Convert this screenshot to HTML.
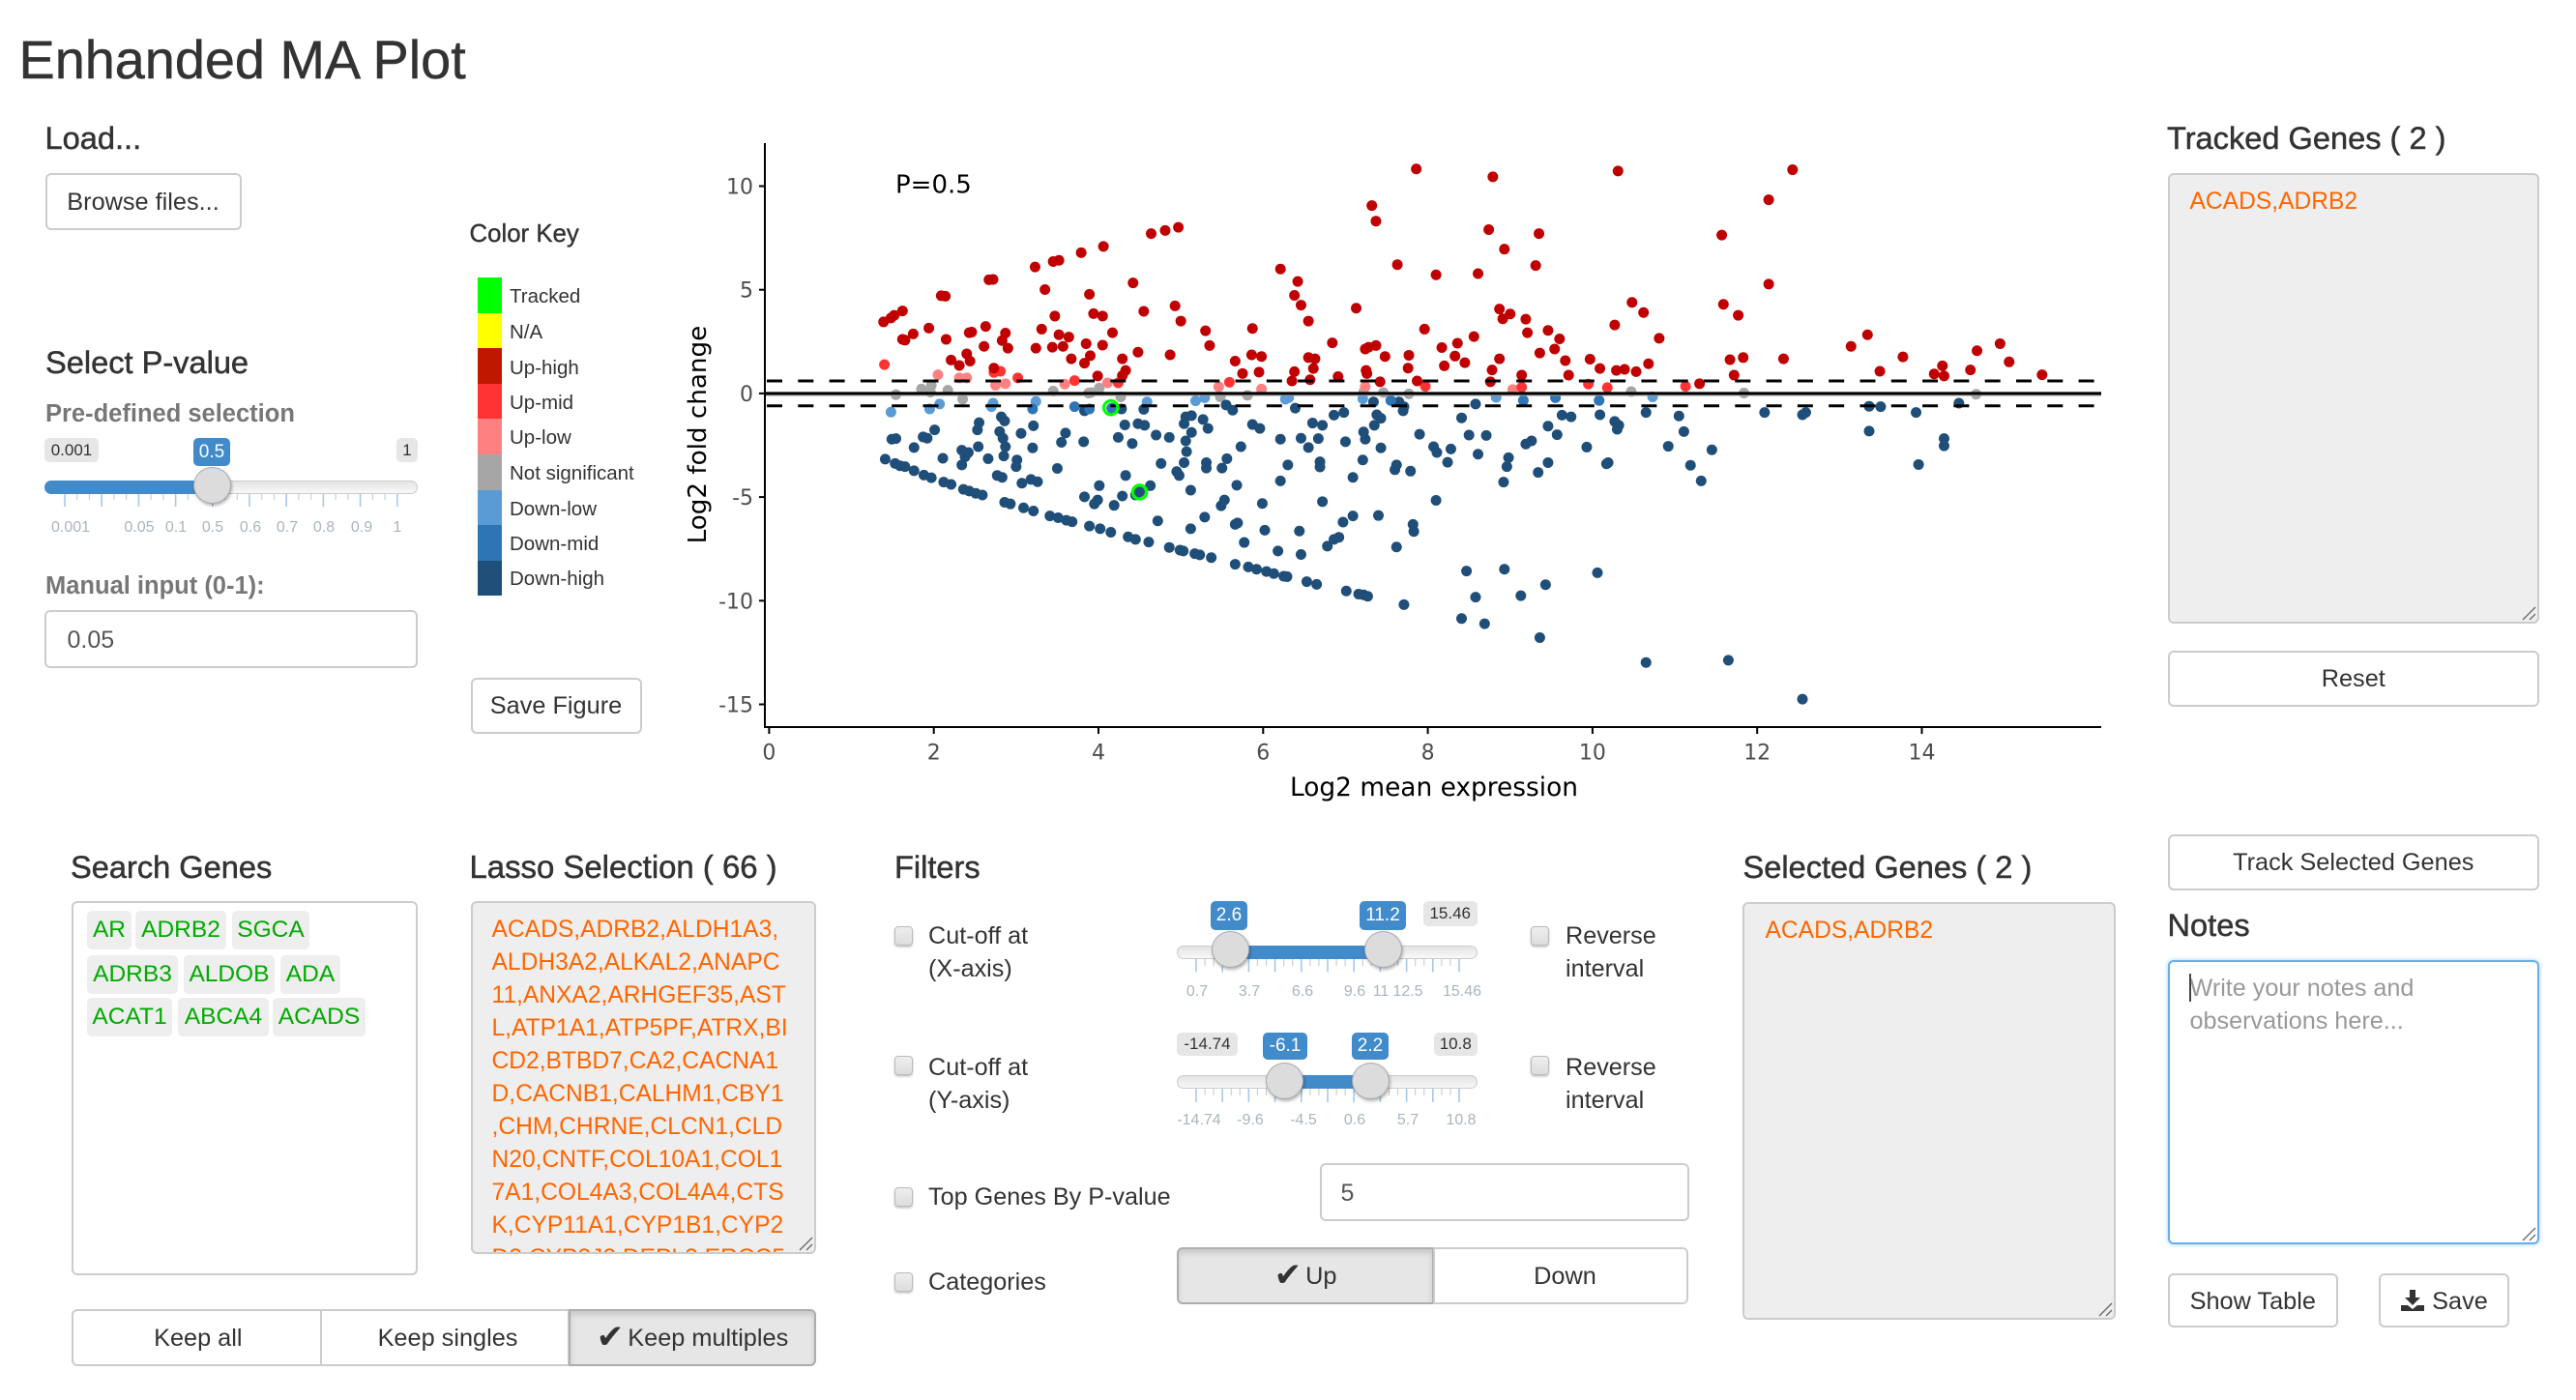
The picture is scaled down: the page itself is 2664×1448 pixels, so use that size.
<!DOCTYPE html>
<html lang="en">
<head>
<meta charset="utf-8">
<title>Enhanded MA Plot</title>
<style>
html,body{margin:0;padding:0;background:#fff;}
body{position:relative;width:2664px;height:1448px;overflow:hidden;font-family:"Liberation Sans",sans-serif;color:#333;}
.t{position:absolute;line-height:1;white-space:nowrap;}
.h{position:absolute;line-height:1;white-space:nowrap;font-size:32.6px;color:#333;-webkit-text-stroke:.5px #333;}
.lb{position:absolute;line-height:1;white-space:nowrap;font-size:25.5px;font-weight:bold;color:#777;}
.b{position:absolute;line-height:1;font-size:25.2px;white-space:nowrap;color:#333;}
.btn{position:absolute;box-sizing:border-box;background:#fff;border:2.5px solid #ccc;border-radius:6px;font:25.3px "Liberation Sans",sans-serif;color:#333;padding:2px 0 0 0;margin:0;text-align:center;white-space:nowrap;}
.on{background:#e6e6e6;border-color:#adadad;box-shadow:inset 0 4px 6px rgba(0,0,0,.13);}
.chk{font-family:"DejaVu Sans",sans-serif;font-size:34px;line-height:0;vertical-align:-2px;margin-right:-3px;}
.inp{position:absolute;box-sizing:border-box;background:#fff;border:2.5px solid #ccc;border-radius:6px;font:25px "Liberation Sans",sans-serif;color:#555;outline:none;margin:0;}
.box{position:absolute;box-sizing:border-box;border:2.5px solid #ccc;border-radius:6px;overflow:hidden;font-size:24.6px;line-height:34px;color:#ff6600;background:#eee;white-space:nowrap;}
.grip{position:absolute;right:1px;bottom:1px;}
.tag{position:absolute;background:#eee;border-radius:5px;color:#00aa00;font-size:24.5px;line-height:40px;height:40px;text-align:center;}
.sw{position:absolute;left:494px;width:25px;height:36.6px;}
.key{position:absolute;left:527px;font-size:20.5px;line-height:1;color:#333;white-space:nowrap;}
.track{position:absolute;box-sizing:border-box;height:14px;border:1.5px solid #ccc;border-radius:7px;background:linear-gradient(#e4e4e4,#f8f8f8);}
.fill{position:absolute;height:14px;background:#428bca;}
.hd{position:absolute;box-sizing:border-box;width:39px;height:38px;border-radius:50%;background:#dcdcdc;border:1.5px solid #aaa;box-shadow:1px 2px 3px rgba(0,0,0,.3);}
.pill{position:absolute;border-radius:5px;background:#e6e6e6;color:#333;font-size:17px;text-align:center;}
.val{position:absolute;border-radius:5px;background:#428bca;color:#fff;font-size:19px;text-align:center;}
.gl{position:absolute;line-height:1;font-size:16px;color:#a9b4c1;white-space:nowrap;transform:translateX(-50%);}
.cb{position:absolute;box-sizing:border-box;width:19px;height:20px;border:1.5px solid #bbb;border-radius:4px;background:linear-gradient(#eee,#ddd);box-shadow:0 1.5px 2px rgba(0,0,0,.25);}
svg text{font-family:"DejaVu Sans",sans-serif;}
</style>
</head>
<body>

<div class="t" style="left:19.5px;top:34px;font-size:55.8px;color:#333;-webkit-text-stroke:.5px #333;">Enhanded MA Plot</div>

<div class="h" style="left:46.5px;top:127px;">Load...</div>
<button class="btn" style="left:46.5px;top:178.5px;width:203px;height:59px;">Browse files...</button>

<div class="t" style="left:485.5px;top:229.5px;font-size:25.8px;color:#333;-webkit-text-stroke:.4px #333;">Color Key</div>
<div class="sw" style="top:287px;background:#00ff00;"></div>
<div class="sw" style="top:323.6px;background:#ffff00;"></div>
<div class="sw" style="top:360.2px;background:#c01800;"></div>
<div class="sw" style="top:396.8px;background:#ff3333;"></div>
<div class="sw" style="top:433.4px;background:#ff8080;"></div>
<div class="sw" style="top:470px;background:#a6a6a6;"></div>
<div class="sw" style="top:506.6px;background:#5b9bd5;"></div>
<div class="sw" style="top:543.2px;background:#2e75b6;"></div>
<div class="sw" style="top:579.8px;height:36.6px;background:#1f4e79;"></div>
<div class="key" style="top:297px;">Tracked</div>
<div class="key" style="top:334px;">N/A</div>
<div class="key" style="top:370.5px;">Up-high</div>
<div class="key" style="top:406.5px;">Up-mid</div>
<div class="key" style="top:443px;">Up-low</div>
<div class="key" style="top:480px;">Not significant</div>
<div class="key" style="top:517px;">Down-low</div>
<div class="key" style="top:553px;">Down-mid</div>
<div class="key" style="top:589px;">Down-high</div>
<button class="btn" style="left:486.5px;top:700.5px;width:177px;height:58.5px;">Save Figure</button>

<div class="h" style="left:47px;top:358.5px;">Select P-value</div>
<div class="lb" style="left:47px;top:416px;">Pre-defined selection</div>
<div class="pill" style="left:46px;top:452.5px;width:56px;height:25.5px;line-height:25px;">0.001</div>
<div class="val" style="left:200px;top:452.5px;width:38px;height:29.5px;line-height:30px;">0.5</div>
<div class="pill" style="left:410px;top:452.5px;width:22px;height:25.5px;line-height:25px;">1</div>
<div class="track" style="left:46px;top:497px;width:386px;"></div>
<div class="fill" style="left:46px;top:497px;width:174px;border-radius:7px 0 0 7px;"></div>
<svg id="grid-p" width="400" height="20" style="position:absolute;left:46px;top:511px;"></svg>
<div class="hd" style="left:200px;top:482.5px;"></div>
<div class="gl" style="left:73px;top:537.5px;">0.001</div>
<div class="gl" style="left:144px;top:537.5px;">0.05</div>
<div class="gl" style="left:182px;top:537.5px;">0.1</div>
<div class="gl" style="left:220px;top:537.5px;">0.5</div>
<div class="gl" style="left:259px;top:537.5px;">0.6</div>
<div class="gl" style="left:297px;top:537.5px;">0.7</div>
<div class="gl" style="left:335px;top:537.5px;">0.8</div>
<div class="gl" style="left:374px;top:537.5px;">0.9</div>
<div class="gl" style="left:411px;top:537.5px;">1</div>
<div class="lb" style="left:47px;top:594px;">Manual input (0-1):</div>
<input class="inp" value="0.05" style="left:46px;top:631px;width:386px;height:60px;padding:3px 0 0 21.5px;">

<div class="h" style="left:73px;top:881px;">Search Genes</div>
<div class="box" style="left:74px;top:932.4px;width:357.6px;height:387px;background:#fff;"></div>
<div class="tag" style="left:90px;top:942px;width:46px;">AR</div>
<div class="tag" style="left:140px;top:942px;width:94px;">ADRB2</div>
<div class="tag" style="left:240px;top:942px;width:80px;">SGCA</div>
<div class="tag" style="left:90px;top:988px;width:94px;">ADRB3</div>
<div class="tag" style="left:190px;top:988px;width:94px;">ALDOB</div>
<div class="tag" style="left:290px;top:988px;width:62px;">ADA</div>
<div class="tag" style="left:90px;top:1032px;width:88px;">ACAT1</div>
<div class="tag" style="left:184px;top:1032px;width:94px;">ABCA4</div>
<div class="tag" style="left:282px;top:1032px;width:96px;">ACADS</div>

<div class="h" style="left:485.5px;top:881px;font-size:32.9px;">Lasso Selection ( 66 )</div>
<div class="box" style="left:486.5px;top:932px;width:357.5px;height:365px;padding:10.5px 0 0 20px;">ACADS,ADRB2,ALDH1A3,<br>ALDH3A2,ALKAL2,ANAPC<br>11,ANXA2,ARHGEF35,AST<br>L,ATP1A1,ATP5PF,ATRX,BI<br>CD2,BTBD7,CA2,CACNA1<br>D,CACNB1,CALHM1,CBY1<br>,CHM,CHRNE,CLCN1,CLD<br>N20,CNTF,COL10A1,COL1<br>7A1,COL4A3,COL4A4,CTS<br>K,CYP11A1,CYP1B1,CYP2<br>D2,CYP2J2,DEPL2,ERCC5
<svg class="grip" width="16" height="16"><path d="M2 15L15 2M9 15L15 9" stroke="#666" stroke-width="1.3" fill="none"/></svg></div>
<button class="btn" style="left:74px;top:1354px;width:258.6px;height:59.4px;border-radius:6px 0 0 6px;padding-left:3px;">Keep all</button>
<button class="btn" style="left:331px;top:1354px;width:258px;height:59.4px;border-radius:0;padding-left:6px;">Keep singles</button>
<button class="btn on" style="left:588px;top:1354px;width:256px;height:59.4px;border-radius:0 6px 6px 0;"><span class="chk">✔</span> Keep multiples</button>

<div class="h" style="left:925px;top:881px;">Filters</div>
<div class="cb" style="left:925px;top:958px;"></div>
<div class="b" style="left:960px;top:955.5px;">Cut-off at</div>
<div class="b" style="left:960px;top:989.5px;">(X-axis)</div>
<div class="pill" style="left:1472px;top:932px;width:55.5px;height:26px;line-height:26px;">15.46</div>
<div class="val" style="left:1252px;top:932px;width:38px;height:30px;line-height:30px;">2.6</div>
<div class="val" style="left:1406px;top:932px;width:48px;height:30px;line-height:30px;">11.2</div>
<div class="track" style="left:1217px;top:978px;width:310.5px;"></div>
<div class="fill" style="left:1272px;top:978px;width:158px;"></div>
<svg id="grid-x" width="320" height="20" style="position:absolute;left:1217px;top:992px;"></svg>
<div class="hd" style="left:1252.5px;top:963px;"></div>
<div class="hd" style="left:1410.5px;top:963px;"></div>
<div class="gl" style="left:1238px;top:1018px;">0.7</div>
<div class="gl" style="left:1292px;top:1018px;">3.7</div>
<div class="gl" style="left:1347px;top:1018px;">6.6</div>
<div class="gl" style="left:1401px;top:1018px;">9.6</div>
<div class="gl" style="left:1428px;top:1018px;">11</div>
<div class="gl" style="left:1456px;top:1018px;">12.5</div>
<div class="gl" style="left:1512px;top:1018px;">15.46</div>
<div class="cb" style="left:1582.6px;top:958px;"></div>
<div class="b" style="left:1619px;top:955.5px;">Reverse</div>
<div class="b" style="left:1619px;top:989.5px;">interval</div>

<div class="cb" style="left:925px;top:1092px;"></div>
<div class="b" style="left:960px;top:1091.5px;">Cut-off at</div>
<div class="b" style="left:960px;top:1125.5px;">(Y-axis)</div>
<div class="pill" style="left:1217px;top:1068px;width:63px;height:24px;line-height:24px;">-14.74</div>
<div class="val" style="left:1306px;top:1068px;width:46px;height:28px;line-height:28px;">-6.1</div>
<div class="val" style="left:1398px;top:1068px;width:38px;height:28px;line-height:28px;">2.2</div>
<div class="pill" style="left:1483px;top:1068px;width:44.5px;height:24px;line-height:24px;">10.8</div>
<div class="track" style="left:1217px;top:1112px;width:310.5px;"></div>
<div class="fill" style="left:1328px;top:1112px;width:89px;"></div>
<svg id="grid-y" width="320" height="20" style="position:absolute;left:1217px;top:1125.5px;"></svg>
<div class="hd" style="left:1308.5px;top:1099px;"></div>
<div class="hd" style="left:1397.5px;top:1099px;"></div>
<div class="gl" style="left:1240px;top:1151px;">-14.74</div>
<div class="gl" style="left:1293px;top:1151px;">-9.6</div>
<div class="gl" style="left:1348px;top:1151px;">-4.5</div>
<div class="gl" style="left:1401px;top:1151px;">0.6</div>
<div class="gl" style="left:1456px;top:1151px;">5.7</div>
<div class="gl" style="left:1511px;top:1151px;">10.8</div>
<div class="cb" style="left:1582.6px;top:1092px;"></div>
<div class="b" style="left:1619px;top:1091.5px;">Reverse</div>
<div class="b" style="left:1619px;top:1125.5px;">interval</div>

<div class="cb" style="left:925px;top:1228px;"></div>
<div class="b" style="left:960px;top:1226px;">Top Genes By P-value</div>
<input class="inp" value="5" style="left:1365px;top:1203px;width:382px;height:60px;padding:2px 0 0 19.5px;">
<div class="cb" style="left:925px;top:1316px;"></div>
<div class="b" style="left:960px;top:1314px;">Categories</div>
<button class="btn on" style="left:1217px;top:1290.4px;width:266px;height:59px;border-radius:6px 0 0 6px;"><span class="chk">✔</span> Up</button>
<button class="btn" style="left:1482px;top:1290.4px;width:264px;height:59px;border-radius:0 6px 6px 0;padding-left:9px;">Down</button>

<div class="h" style="left:1802.5px;top:881px;">Selected Genes ( 2 )</div>
<div class="box" style="left:1802px;top:933px;width:385.5px;height:432px;padding:11px 0 0 21.5px;">ACADS,ADRB2
<svg class="grip" width="16" height="16"><path d="M2 15L15 2M9 15L15 9" stroke="#666" stroke-width="1.3" fill="none"/></svg></div>

<div class="h" style="left:2241px;top:126.5px;">Tracked Genes ( 2 )</div>
<div class="box" style="left:2242px;top:179px;width:383.5px;height:466px;padding:11px 0 0 20.5px;">ACADS,ADRB2
<svg class="grip" width="16" height="16"><path d="M2 15L15 2M9 15L15 9" stroke="#666" stroke-width="1.3" fill="none"/></svg></div>
<button class="btn" style="left:2242px;top:672.6px;width:383.5px;height:58.5px;">Reset</button>
<button class="btn" style="left:2242px;top:862.7px;width:383.5px;height:58.5px;">Track Selected Genes</button>
<div class="h" style="left:2241.5px;top:940.5px;">Notes</div>
<div class="box" style="left:2242px;top:993.4px;width:383.5px;height:294px;padding:10px 0 0 20.5px;font-size:25.2px;background:#fff;border-color:#66afe9;color:#999;box-shadow:0 0 5px rgba(102,175,233,.6);">Write your notes and<br>observations here...
<svg class="grip" width="16" height="16"><path d="M2 15L15 2M9 15L15 9" stroke="#666" stroke-width="1.3" fill="none"/></svg></div>
<div style="position:absolute;left:2264px;top:1007px;width:2px;height:29px;background:#444;"></div>
<button class="btn" style="left:2242px;top:1316.7px;width:175.5px;height:56.7px;">Show Table</button>
<button class="btn" style="left:2460px;top:1316.7px;width:135px;height:56.7px;"><svg width="26" height="24" viewBox="0 0 26 24" style="vertical-align:-3px;"><path d="M10 1h6v8h5l-8 8-8-8h5zM1 17h7l5 4 5-4h7v6H1z" fill="#333"/></svg> Save</button>

<svg id="ma-chart" width="2664" height="1448" viewBox="0 0 2664 1448" style="position:absolute;left:0;top:0;pointer-events:none;">
  <g id="points"></g>
  <g id="refs"></g>
  <g id="tracked"></g>
  <g id="axes"></g>
</svg>

<script>
const xTicks = [0, 2, 4, 6, 8, 10, 12, 14];
const yTicks = [10, 5, 0, -5, -10, -15];
const pCutoffLabel = "P=0.5";
const foldThreshold = 0.6;
const trackedGenes = [[4.15,-0.69],[4.50,-4.76]];
const upHigh = [[1.39,3.45],[1.48,3.64],[1.52,3.77],[1.62,3.98],[2.09,4.71],[2.14,4.69],[2.67,5.48],[2.72,5.50],[3.23,6.10],[3.45,6.36],[3.52,6.42],[3.79,6.79],[4.06,7.09],[4.64,7.71],[4.81,7.86],[4.97,8.01],[6.21,6.00],[6.42,5.40],[6.38,4.73],[6.46,4.26],[6.55,3.49],[3.35,5.01],[3.89,4.78],[4.42,5.33],[4.55,3.96],[4.93,4.22],[5.00,3.49],[5.30,3.02],[5.35,2.31],[5.87,3.13],[6.84,2.44],[1.94,3.15],[1.75,2.87],[1.62,2.61],[1.65,2.57],[2.15,2.61],[2.21,1.61],[2.31,1.35],[2.40,1.91],[2.44,1.56],[2.43,2.93],[2.46,2.96],[2.63,3.23],[2.61,2.27],[2.83,2.55],[2.87,2.91],[2.90,2.18],[2.73,1.22],[3.24,2.18],[3.31,3.10],[3.47,3.73],[3.52,2.83],[3.44,2.23],[3.57,2.27],[3.64,2.72],[3.67,1.67],[3.83,1.46],[3.85,2.40],[3.90,1.82],[3.94,3.85],[4.05,3.73],[4.17,2.93],[4.05,2.33],[4.29,1.67],[4.33,1.11],[4.48,1.99],[4.87,1.86],[3.99,0.84],[4.29,0.86],[5.66,1.56],[5.75,0.96],[5.86,1.86],[5.98,1.78],[5.95,1.03],[6.38,1.05],[6.35,0.60],[6.57,0.66],[6.61,1.20],[6.55,1.73],[6.63,1.67],[6.91,0.81],[7.86,10.83],[8.79,10.45],[10.31,10.73],[12.43,10.79],[12.14,9.34],[7.32,9.06],[7.37,8.31],[8.74,7.90],[9.35,7.71],[11.57,7.64],[8.93,6.96],[7.63,6.21],[9.31,6.17],[8.10,5.72],[8.61,5.78],[12.14,5.27],[11.59,4.30],[10.48,4.39],[10.62,3.90],[11.77,3.77],[7.13,4.11],[8.87,4.07],[9.00,3.83],[8.91,3.60],[9.19,3.58],[9.21,2.93],[9.46,3.04],[9.60,2.63],[10.27,3.30],[10.81,2.66],[7.96,3.10],[8.56,2.74],[8.36,2.42],[8.17,2.21],[7.37,2.31],[7.28,2.23],[7.24,2.14],[7.48,1.78],[7.77,1.84],[9.36,1.95],[9.54,2.14],[9.67,1.58],[9.97,1.65],[8.33,1.80],[8.45,1.48],[8.20,1.33],[7.76,1.22],[8.87,1.67],[8.78,1.13],[7.25,1.11],[7.26,0.96],[9.14,0.88],[9.71,0.88],[10.09,1.20],[10.29,1.11],[10.39,1.16],[10.53,1.05],[10.68,1.43],[11.67,1.63],[11.83,1.73],[12.32,1.67],[11.72,0.88],[13.14,2.27],[13.34,2.83],[13.77,1.76],[13.49,1.07],[14.15,0.94],[14.25,1.33],[14.27,0.84],[14.59,1.13],[14.67,2.06],[14.95,2.40],[15.06,1.52],[15.46,0.90],[7.42,0.56],[7.87,0.60],[8.76,0.56],[11.30,0.47]];
const upMid = [[1.40,1.39],[2.73,1.01],[2.81,1.07],[3.02,0.75],[3.71,0.62],[4.24,0.51],[5.59,0.54],[7.97,0.34],[9.14,0.30],[9.95,0.45],[10.18,0.28],[11.13,0.34]];
const upLow = [[2.05,0.90],[2.31,0.75],[2.40,0.75],[2.75,0.39],[2.87,0.47],[3.59,0.45],[4.11,0.51],[5.46,0.32],[5.98,0.21],[7.24,0.32],[9.03,0.19]];
const notSignificant = [[1.54,-0.06],[1.85,0.21],[1.97,0.39],[1.96,0.06],[2.17,0.15],[2.35,-0.28],[3.45,0.11],[3.88,0.02],[3.91,0.04],[4.01,0.26],[4.27,-0.17],[5.48,-0.17],[5.81,-0.09],[7.22,0.06],[7.46,0.04],[7.77,-0.02],[10.47,0.09],[11.84,0.02],[14.66,-0.04]];
const downLow = [[1.48,-0.90],[1.95,-0.75],[2.07,-0.51],[2.72,-0.47],[2.70,-0.64],[3.24,-0.39],[4.59,-0.41],[5.18,-0.36],[5.29,-0.21],[6.27,-0.28],[6.31,-0.21],[7.21,-0.26],[8.83,-0.19],[10.73,-0.17]];
const downHigh = [[3.83,-0.84],[4.28,-0.75],[4.55,-0.77],[5.06,-1.13],[5.13,-1.07],[5.04,-1.46],[5.27,-1.26],[5.55,-0.56],[5.63,-0.81],[6.39,-0.71],[6.86,-1.05],[6.98,-0.92],[6.60,-1.43],[6.72,-1.54],[5.87,-1.50],[5.96,-1.69],[2.82,-1.13],[2.86,-1.33],[2.55,-1.41],[2.53,-1.76],[2.01,-1.76],[1.87,-2.10],[1.92,-2.16],[1.49,-2.21],[1.54,-2.18],[2.80,-1.84],[2.84,-2.16],[2.87,-2.57],[2.54,-2.57],[2.34,-2.74],[2.42,-2.85],[2.38,-3.06],[1.76,-2.61],[2.11,-3.13],[2.66,-3.15],[1.41,-3.17],[1.53,-3.38],[1.59,-3.49],[1.65,-3.53],[1.76,-3.73],[1.88,-3.94],[1.97,-4.07],[2.12,-4.28],[2.21,-4.39],[2.36,-4.63],[2.43,-4.71],[2.51,-4.82],[2.59,-4.90],[2.34,-3.45],[2.77,-3.96],[2.83,-4.05],[2.85,-3.02],[3.01,-3.21],[3.00,-3.53],[3.06,-1.93],[3.21,-1.56],[3.20,-2.63],[3.55,-2.36],[3.60,-1.91],[3.82,-2.33],[3.50,-3.62],[3.18,-4.15],[3.26,-4.26],[3.07,-4.33],[2.86,-5.25],[2.93,-5.33],[3.09,-5.52],[3.21,-5.67],[3.41,-5.91],[3.51,-6.00],[3.61,-6.12],[3.68,-6.19],[3.89,-6.40],[4.02,-6.53],[4.15,-6.70],[4.36,-6.92],[4.45,-7.04],[4.61,-7.17],[4.86,-7.43],[4.99,-7.56],[5.03,-7.60],[5.17,-7.73],[5.23,-7.79],[5.37,-7.92],[5.66,-8.24],[5.82,-8.37],[5.92,-8.48],[6.04,-8.59],[6.13,-8.69],[6.25,-8.82],[6.29,-8.84],[6.53,-9.08],[6.65,-9.21],[4.32,-1.52],[4.48,-1.46],[4.56,-1.54],[4.24,-2.12],[4.41,-2.42],[4.70,-2.01],[4.86,-2.12],[5.13,-1.88],[5.33,-1.69],[5.06,-2.29],[5.07,-2.81],[4.76,-3.38],[4.33,-3.96],[4.01,-4.45],[3.83,-4.99],[3.99,-5.14],[3.95,-5.33],[4.19,-5.40],[4.29,-4.95],[4.45,-4.90],[4.50,-4.75],[4.63,-4.45],[4.98,-3.96],[4.95,-3.77],[5.04,-3.34],[5.31,-3.34],[5.31,-3.60],[5.12,-4.67],[5.56,-3.15],[5.50,-3.60],[5.73,-2.57],[5.68,-4.43],[5.53,-5.14],[5.49,-5.42],[5.29,-5.97],[5.12,-6.53],[4.72,-6.15],[5.66,-6.32],[5.69,-6.25],[5.77,-7.19],[5.99,-5.31],[6.02,-6.60],[6.18,-7.60],[6.21,-4.22],[6.30,-3.45],[6.46,-2.16],[6.21,-2.21],[6.55,-2.61],[6.67,-2.18],[7.00,-2.33],[6.69,-3.30],[6.69,-3.55],[6.72,-5.22],[6.97,-6.21],[6.44,-6.64],[6.46,-7.77],[6.78,-7.37],[6.86,-7.04],[6.92,-6.94],[7.01,-9.53],[7.34,-0.41],[7.65,-0.41],[7.71,-0.64],[7.70,-0.84],[8.58,-0.51],[8.41,-1.18],[7.38,-1.03],[7.43,-1.20],[7.35,-1.54],[7.22,-1.86],[7.24,-2.21],[7.43,-2.63],[7.21,-3.21],[7.09,-4.05],[7.62,-3.45],[7.60,-3.68],[7.79,-3.75],[7.90,-1.97],[8.07,-2.57],[8.11,-2.85],[8.28,-2.68],[8.24,-3.32],[8.50,-2.01],[8.71,-2.03],[8.61,-2.93],[8.98,-3.10],[8.96,-3.53],[8.92,-4.28],[9.19,-2.44],[9.26,-2.29],[9.34,-3.81],[9.46,-3.34],[9.46,-1.58],[9.57,-1.99],[9.63,-1.05],[9.74,-1.13],[9.93,-2.59],[10.09,-1.03],[10.27,-1.35],[10.32,-1.54],[10.30,-1.73],[10.17,-3.40],[10.19,-3.34],[10.65,-0.92],[10.92,-2.55],[11.05,-1.09],[11.11,-1.84],[11.19,-3.47],[11.32,-4.22],[11.45,-2.72],[12.09,-0.92],[12.55,-1.03],[12.59,-0.92],[13.36,-0.62],[13.50,-0.64],[13.36,-1.82],[13.93,-0.92],[13.96,-3.43],[14.27,-2.53],[14.27,-2.18],[14.45,-0.47],[8.10,-5.16],[7.09,-5.91],[7.40,-5.89],[7.82,-6.32],[7.83,-6.66],[7.62,-7.41],[7.16,-9.68],[7.22,-9.72],[7.27,-9.79],[7.71,-10.19],[8.47,-8.57],[8.93,-8.48],[9.43,-9.23],[10.06,-8.65],[8.58,-9.83],[9.13,-9.76],[8.41,-10.86],[8.69,-11.11],[9.36,-11.78],[10.65,-12.98],[11.65,-12.87],[12.55,-14.75]];
const downMid = [[3.20,-0.75],[3.71,-0.64],[3.89,-0.75],[4.16,-0.71],[7.55,-0.34],[9.16,-0.34],[9.55,-0.21],[10.08,-0.34]];

const NS = "http://www.w3.org/2000/svg";
function sx(v){ return 795.4 + 85.15 * v; }
function sy(v){ return 406.9 - 21.44 * v; }

function mk(parent, tag, attrs){
  const el = document.createElementNS(NS, tag);
  for (const k in attrs) el.setAttribute(k, attrs[k]);
  parent.appendChild(el);
  return el;
}

const pointsLayer = document.getElementById("points");
function drawSeries(values, color, name){
  values.forEach(function(p){
    const el = mk(pointsLayer, "circle", {cx: sx(p[0]), cy: sy(p[1]), r: 5.5, fill: color});
    
    
  });
}
drawSeries(notSignificant, "#a6a6a6", "not-significant");
drawSeries(upLow, "#ff8080", "up-low");
drawSeries(upMid, "#ff3333", "up-mid");
drawSeries(upHigh, "#c00000", "up-high");
drawSeries(downLow, "#5b9bd5", "down-low");
drawSeries(downHigh, "#1f4e79", "down-high");
drawSeries(downMid, "#2e75b6", "down-mid");

const trackedLayer = document.getElementById("tracked");
trackedGenes.forEach(function(p){
  const el = mk(trackedLayer, "circle", {cx: sx(p[0]), cy: sy(p[1]), r: 7.2, fill: "none", stroke: "#00ff00", "stroke-width": 3.2});
  
  
});

const refs = document.getElementById("refs");
const zeroShadow = mk(refs, "line", {x1: 791, x2: 2173, y1: sy(0) + 1.6, y2: sy(0) + 1.6, stroke: "#999", "stroke-width": 2});


const zeroLine = mk(refs, "line", {x1: 791, x2: 2173, y1: sy(0), y2: sy(0), stroke: "#000", "stroke-width": 3});


const upperDash = mk(refs, "line", {x1: 793, x2: 2169, y1: sy(foldThreshold), y2: sy(foldThreshold), stroke: "#000", "stroke-width": 3, "stroke-dasharray": "16 16.3"});


const lowerDash = mk(refs, "line", {x1: 793, x2: 2169, y1: sy(-foldThreshold), y2: sy(-foldThreshold), stroke: "#000", "stroke-width": 3, "stroke-dasharray": "16 16.3"});



const axes = document.getElementById("axes");
const yAxis = mk(axes, "line", {x1: 791, x2: 791, y1: 148, y2: 752.5, stroke: "#000", "stroke-width": 2});


const xAxis = mk(axes, "line", {x1: 790, x2: 2173, y1: 752, y2: 752, stroke: "#000", "stroke-width": 2});



xTicks.forEach(function(v){
  const tick = mk(axes, "line", {x1: sx(v), x2: sx(v), y1: 752, y2: 759, stroke: "#000", "stroke-width": 2});
  
  
  const lab = mk(axes, "text", {x: sx(v), y: 785.5, "text-anchor": "middle", "font-size": 22, fill: "#4d4d4d"});
  
  
  lab.textContent = String(v);
});
yTicks.forEach(function(v){
  const tick = mk(axes, "line", {x1: 785, x2: 791, y1: sy(v), y2: sy(v), stroke: "#000", "stroke-width": 2});
  
  
  const lab = mk(axes, "text", {x: 779, y: sy(v) + 8, "text-anchor": "end", "font-size": 22, fill: "#4d4d4d"});
  
  
  lab.textContent = String(v);
});
const xTitle = mk(axes, "text", {x: 1483, y: 823, "text-anchor": "middle", "font-size": 26.4, fill: "#000"});


xTitle.textContent = "Log2 mean expression";
const yTitle = mk(axes, "text", {transform: "translate(730 449.6) rotate(-90)", "text-anchor": "middle", "font-size": 26.2, fill: "#000"});


yTitle.textContent = "Log2 fold change";
const pLabel = mk(axes, "text", {x: 926, y: 199.5, "font-size": 26, fill: "#000"});


pLabel.textContent = pCutoffLabel;

function sliderGrid(id, start, step, count, tall, short){
  const svg = document.getElementById(id);
  for (let i = 0; i <= count; i++){
    const x = start + i * step;
    const major = mk(svg, "line", {x1: x, x2: x, y1: 0, y2: tall, stroke: "#a6c9ea", "stroke-width": 1.6});
    
    
    if (i < count) {
      for (let j = 1; j <= 2; j++){
        const xm = x + j * step / 3;
        const minor = mk(svg, "line", {x1: xm, x2: xm, y1: 0, y2: short, stroke: "#c9cfd6", "stroke-width": 1.2});
        
        
      }
    }
  }
}
sliderGrid("grid-p", 21, 38.2, 9, 13, 6);
sliderGrid("grid-x", 20, 27.2, 10, 13.5, 7);
sliderGrid("grid-y", 20, 27.2, 10, 14, 7);
</script>
</body>
</html>
